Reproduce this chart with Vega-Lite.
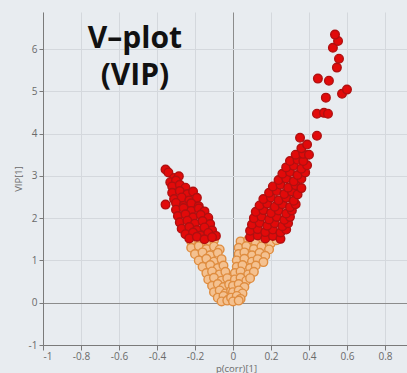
{
  "$schema": "https://vega.github.io/schema/vega-lite/v6.json",
  "autosize": "none",
  "width": 364,
  "height": 333,
  "padding": {"left": 43, "top": 12, "right": 0, "bottom": 28},
  "background": "#e8ecf0",
  "config": {"view": {"stroke": null, "fill": "#e8ecf0"}},
  "datasets": {
    "pts": [
      {"p": -0.22, "v": 1.45, "g": "lo"}, {"p": -0.18, "v": 1.49, "g": "lo"}, {"p": -0.14, "v": 1.42, "g": "lo"}, {"p": -0.10, "v": 1.48, "g": "lo"},
      {"p": -0.22, "v": 1.30, "g": "lo"}, {"p": -0.18, "v": 1.34, "g": "lo"}, {"p": -0.14, "v": 1.27, "g": "lo"}, {"p": -0.10, "v": 1.33, "g": "lo"}, {"p": -0.07, "v": 1.26, "g": "lo"},
      {"p": -0.20, "v": 1.15, "g": "lo"}, {"p": -0.16, "v": 1.19, "g": "lo"}, {"p": -0.12, "v": 1.12, "g": "lo"}, {"p": -0.08, "v": 1.18, "g": "lo"},
      {"p": -0.18, "v": 1.00, "g": "lo"}, {"p": -0.14, "v": 1.04, "g": "lo"}, {"p": -0.10, "v": 0.97, "g": "lo"}, {"p": -0.06, "v": 1.03, "g": "lo"},
      {"p": -0.16, "v": 0.85, "g": "lo"}, {"p": -0.12, "v": 0.89, "g": "lo"}, {"p": -0.08, "v": 0.82, "g": "lo"}, {"p": -0.05, "v": 0.88, "g": "lo"},
      {"p": -0.14, "v": 0.70, "g": "lo"}, {"p": -0.11, "v": 0.74, "g": "lo"}, {"p": -0.07, "v": 0.67, "g": "lo"}, {"p": -0.04, "v": 0.73, "g": "lo"},
      {"p": -0.13, "v": 0.55, "g": "lo"}, {"p": -0.10, "v": 0.59, "g": "lo"}, {"p": -0.06, "v": 0.52, "g": "lo"}, {"p": -0.03, "v": 0.58, "g": "lo"},
      {"p": -0.11, "v": 0.40, "g": "lo"}, {"p": -0.08, "v": 0.44, "g": "lo"}, {"p": -0.05, "v": 0.37, "g": "lo"}, {"p": -0.02, "v": 0.43, "g": "lo"},
      {"p": -0.10, "v": 0.25, "g": "lo"}, {"p": -0.07, "v": 0.29, "g": "lo"}, {"p": -0.04, "v": 0.22, "g": "lo"}, {"p": -0.01, "v": 0.28, "g": "lo"},
      {"p": -0.08, "v": 0.12, "g": "lo"}, {"p": -0.05, "v": 0.16, "g": "lo"}, {"p": -0.02, "v": 0.09, "g": "lo"},
      {"p": -0.06, "v": 0.03, "g": "lo"}, {"p": -0.03, "v": 0.05, "g": "lo"},
      {"p": 0.04, "v": 1.45, "g": "lo"}, {"p": 0.08, "v": 1.49, "g": "lo"}, {"p": 0.12, "v": 1.42, "g": "lo"}, {"p": 0.16, "v": 1.48, "g": "lo"}, {"p": 0.20, "v": 1.41, "g": "lo"}, {"p": 0.23, "v": 1.48, "g": "lo"},
      {"p": 0.03, "v": 1.30, "g": "lo"}, {"p": 0.07, "v": 1.34, "g": "lo"}, {"p": 0.11, "v": 1.27, "g": "lo"}, {"p": 0.15, "v": 1.33, "g": "lo"}, {"p": 0.19, "v": 1.26, "g": "lo"},
      {"p": 0.03, "v": 1.15, "g": "lo"}, {"p": 0.06, "v": 1.19, "g": "lo"}, {"p": 0.10, "v": 1.12, "g": "lo"}, {"p": 0.14, "v": 1.18, "g": "lo"}, {"p": 0.17, "v": 1.11, "g": "lo"},
      {"p": 0.02, "v": 1.00, "g": "lo"}, {"p": 0.06, "v": 1.04, "g": "lo"}, {"p": 0.10, "v": 0.97, "g": "lo"}, {"p": 0.13, "v": 1.03, "g": "lo"}, {"p": 0.16, "v": 0.96, "g": "lo"},
      {"p": 0.02, "v": 0.85, "g": "lo"}, {"p": 0.05, "v": 0.89, "g": "lo"}, {"p": 0.09, "v": 0.82, "g": "lo"}, {"p": 0.12, "v": 0.88, "g": "lo"},
      {"p": 0.01, "v": 0.70, "g": "lo"}, {"p": 0.04, "v": 0.74, "g": "lo"}, {"p": 0.08, "v": 0.67, "g": "lo"}, {"p": 0.11, "v": 0.73, "g": "lo"},
      {"p": 0.01, "v": 0.55, "g": "lo"}, {"p": 0.04, "v": 0.59, "g": "lo"}, {"p": 0.07, "v": 0.52, "g": "lo"}, {"p": 0.09, "v": 0.58, "g": "lo"},
      {"p": 0.00, "v": 0.40, "g": "lo"}, {"p": 0.03, "v": 0.44, "g": "lo"}, {"p": 0.06, "v": 0.37, "g": "lo"},
      {"p": 0.00, "v": 0.25, "g": "lo"}, {"p": 0.03, "v": 0.29, "g": "lo"}, {"p": 0.05, "v": 0.22, "g": "lo"},
      {"p": -0.01, "v": 0.12, "g": "lo"}, {"p": 0.02, "v": 0.16, "g": "lo"}, {"p": 0.04, "v": 0.09, "g": "lo"},
      {"p": 0.00, "v": 0.03, "g": "lo"}, {"p": 0.03, "v": 0.05, "g": "lo"},
      {"p": -0.355, "v": 3.15, "g": "hi"}, {"p": -0.34, "v": 3.08, "g": "hi"},
      {"p": -0.31, "v": 2.95, "g": "hi"}, {"p": -0.285, "v": 2.99, "g": "hi"},
      {"p": -0.33, "v": 2.85, "g": "hi"}, {"p": -0.30, "v": 2.89, "g": "hi"},
      {"p": -0.32, "v": 2.75, "g": "hi"}, {"p": -0.28, "v": 2.79, "g": "hi"}, {"p": -0.25, "v": 2.72, "g": "hi"},
      {"p": -0.32, "v": 2.60, "g": "hi"}, {"p": -0.28, "v": 2.64, "g": "hi"}, {"p": -0.24, "v": 2.57, "g": "hi"}, {"p": -0.21, "v": 2.63, "g": "hi"},
      {"p": -0.31, "v": 2.45, "g": "hi"}, {"p": -0.27, "v": 2.49, "g": "hi"}, {"p": -0.23, "v": 2.42, "g": "hi"}, {"p": -0.19, "v": 2.48, "g": "hi"},
      {"p": -0.355, "v": 2.32, "g": "hi"}, {"p": -0.30, "v": 2.36, "g": "hi"}, {"p": -0.26, "v": 2.29, "g": "hi"}, {"p": -0.22, "v": 2.35, "g": "hi"}, {"p": -0.18, "v": 2.28, "g": "hi"},
      {"p": -0.30, "v": 2.20, "g": "hi"}, {"p": -0.26, "v": 2.24, "g": "hi"}, {"p": -0.22, "v": 2.17, "g": "hi"}, {"p": -0.18, "v": 2.23, "g": "hi"}, {"p": -0.15, "v": 2.16, "g": "hi"},
      {"p": -0.29, "v": 2.05, "g": "hi"}, {"p": -0.25, "v": 2.09, "g": "hi"}, {"p": -0.21, "v": 2.02, "g": "hi"}, {"p": -0.17, "v": 2.08, "g": "hi"}, {"p": -0.13, "v": 2.01, "g": "hi"},
      {"p": -0.28, "v": 1.90, "g": "hi"}, {"p": -0.24, "v": 1.94, "g": "hi"}, {"p": -0.20, "v": 1.87, "g": "hi"}, {"p": -0.16, "v": 1.93, "g": "hi"}, {"p": -0.12, "v": 1.86, "g": "hi"},
      {"p": -0.27, "v": 1.75, "g": "hi"}, {"p": -0.23, "v": 1.79, "g": "hi"}, {"p": -0.19, "v": 1.72, "g": "hi"}, {"p": -0.15, "v": 1.78, "g": "hi"}, {"p": -0.11, "v": 1.71, "g": "hi"},
      {"p": -0.25, "v": 1.62, "g": "hi"}, {"p": -0.21, "v": 1.66, "g": "hi"}, {"p": -0.17, "v": 1.59, "g": "hi"}, {"p": -0.13, "v": 1.65, "g": "hi"}, {"p": -0.09, "v": 1.58, "g": "hi"},
      {"p": -0.23, "v": 1.52, "g": "hi"}, {"p": -0.19, "v": 1.56, "g": "hi"}, {"p": -0.15, "v": 1.50, "g": "hi"}, {"p": -0.11, "v": 1.55, "g": "hi"},
      {"p": 0.09, "v": 1.55, "g": "hi"}, {"p": 0.13, "v": 1.59, "g": "hi"}, {"p": 0.17, "v": 1.52, "g": "hi"}, {"p": 0.21, "v": 1.58, "g": "hi"}, {"p": 0.25, "v": 1.51, "g": "hi"},
      {"p": 0.09, "v": 1.70, "g": "hi"}, {"p": 0.13, "v": 1.74, "g": "hi"}, {"p": 0.17, "v": 1.67, "g": "hi"}, {"p": 0.21, "v": 1.73, "g": "hi"}, {"p": 0.25, "v": 1.66, "g": "hi"}, {"p": 0.28, "v": 1.73, "g": "hi"},
      {"p": 0.10, "v": 1.85, "g": "hi"}, {"p": 0.14, "v": 1.89, "g": "hi"}, {"p": 0.18, "v": 1.82, "g": "hi"}, {"p": 0.22, "v": 1.88, "g": "hi"}, {"p": 0.26, "v": 1.81, "g": "hi"}, {"p": 0.29, "v": 1.88, "g": "hi"},
      {"p": 0.11, "v": 2.00, "g": "hi"}, {"p": 0.15, "v": 2.04, "g": "hi"}, {"p": 0.19, "v": 1.97, "g": "hi"}, {"p": 0.23, "v": 2.03, "g": "hi"}, {"p": 0.27, "v": 1.96, "g": "hi"}, {"p": 0.30, "v": 2.03, "g": "hi"},
      {"p": 0.12, "v": 2.15, "g": "hi"}, {"p": 0.16, "v": 2.19, "g": "hi"}, {"p": 0.20, "v": 2.12, "g": "hi"}, {"p": 0.24, "v": 2.18, "g": "hi"}, {"p": 0.28, "v": 2.11, "g": "hi"}, {"p": 0.31, "v": 2.18, "g": "hi"},
      {"p": 0.14, "v": 2.30, "g": "hi"}, {"p": 0.18, "v": 2.34, "g": "hi"}, {"p": 0.22, "v": 2.27, "g": "hi"}, {"p": 0.26, "v": 2.33, "g": "hi"}, {"p": 0.30, "v": 2.26, "g": "hi"}, {"p": 0.33, "v": 2.33, "g": "hi"},
      {"p": 0.16, "v": 2.45, "g": "hi"}, {"p": 0.20, "v": 2.49, "g": "hi"}, {"p": 0.24, "v": 2.42, "g": "hi"}, {"p": 0.28, "v": 2.48, "g": "hi"}, {"p": 0.32, "v": 2.41, "g": "hi"},
      {"p": 0.19, "v": 2.60, "g": "hi"}, {"p": 0.23, "v": 2.64, "g": "hi"}, {"p": 0.27, "v": 2.57, "g": "hi"}, {"p": 0.31, "v": 2.63, "g": "hi"}, {"p": 0.34, "v": 2.56, "g": "hi"},
      {"p": 0.21, "v": 2.75, "g": "hi"}, {"p": 0.25, "v": 2.79, "g": "hi"}, {"p": 0.29, "v": 2.72, "g": "hi"}, {"p": 0.33, "v": 2.78, "g": "hi"}, {"p": 0.36, "v": 2.71, "g": "hi"},
      {"p": 0.24, "v": 2.90, "g": "hi"}, {"p": 0.28, "v": 2.94, "g": "hi"}, {"p": 0.32, "v": 2.87, "g": "hi"}, {"p": 0.36, "v": 2.93, "g": "hi"},
      {"p": 0.26, "v": 3.05, "g": "hi"}, {"p": 0.30, "v": 3.09, "g": "hi"}, {"p": 0.34, "v": 3.02, "g": "hi"}, {"p": 0.38, "v": 3.08, "g": "hi"},
      {"p": 0.28, "v": 3.20, "g": "hi"}, {"p": 0.32, "v": 3.24, "g": "hi"}, {"p": 0.36, "v": 3.17, "g": "hi"}, {"p": 0.39, "v": 3.25, "g": "hi"},
      {"p": 0.30, "v": 3.35, "g": "hi"}, {"p": 0.34, "v": 3.38, "g": "hi"}, {"p": 0.37, "v": 3.35, "g": "hi"},
      {"p": 0.33, "v": 3.5, "g": "hi"}, {"p": 0.37, "v": 3.52, "g": "hi"}, {"p": 0.40, "v": 3.5, "g": "hi"},
      {"p": 0.36, "v": 3.65, "g": "hi"}, {"p": 0.39, "v": 3.74, "g": "hi"},
      {"p": 0.353, "v": 3.9, "g": "hi"}, {"p": 0.442, "v": 3.95, "g": "hi"},
      {"p": 0.442, "v": 4.47, "g": "hi"}, {"p": 0.479, "v": 4.49, "g": "hi"}, {"p": 0.50, "v": 4.47, "g": "hi"},
      {"p": 0.489, "v": 4.85, "g": "hi"}, {"p": 0.574, "v": 4.94, "g": "hi"}, {"p": 0.60, "v": 5.04, "g": "hi"},
      {"p": 0.447, "v": 5.30, "g": "hi"}, {"p": 0.505, "v": 5.25, "g": "hi"},
      {"p": 0.547, "v": 5.56, "g": "hi"}, {"p": 0.558, "v": 5.77, "g": "hi"},
      {"p": 0.526, "v": 6.03, "g": "hi"}, {"p": 0.553, "v": 6.19, "g": "hi"}, {"p": 0.537, "v": 6.34, "g": "hi"}
    ],
    "labels": [
      {"t": "V–plot", "p": -0.516, "v": 6.03},
      {"t": "(VIP)", "p": -0.516, "v": 5.15}
    ]
  },
  "layer": [
    {
      "data": {"name": "pts"},
      "mark": {"type": "circle", "size": 74, "strokeWidth": 1.4, "opacity": 1},
      "encoding": {
        "x": {
          "field": "p", "type": "quantitative",
          "scale": {"domain": [-1, 0.916], "nice": false, "zero": false},
          "axis": {
            "values": [-1, -0.9, -0.8, -0.7, -0.6, -0.5, -0.4, -0.3, -0.2, -0.1, 0, 0.1, 0.2, 0.3, 0.4, 0.5, 0.6, 0.7, 0.8, 0.9],
            "format": ".1~f",
            "labelExpr": "abs(datum.value*5-round(datum.value*5))<0.001 ? replace(datum.label,'\u2212','-') : ''",
            "grid": true,
            "gridOpacity": {"condition": {"test": "abs(datum.value*5-round(datum.value*5))<0.001", "value": 1}, "value": 0},
            "gridColor": {"condition": {"test": "abs(datum.value)<0.001", "value": "#8c8c8c"}, "value": "#d4d8dd"},
            "tickSize": {"condition": {"test": "abs(datum.value*5-round(datum.value*5))<0.001", "value": 5}, "value": 3},
            "domainColor": "#7a7a7a", "tickColor": "#7a7a7a",
            "labelColor": "#6a6a6a", "labelFont": "Open Sans", "labelFontSize": 10, "labelPadding": 1,
            "title": "p(corr)[1]", "titleFont": "Open Sans", "titleFontSize": 9.5, "titleFontWeight": "normal", "titleColor": "#6a6a6a",
            "titlePadding": 2, "titleX": 193
          }
        },
        "y": {
          "field": "v", "type": "quantitative",
          "scale": {"domain": [-1, 6.875], "nice": false, "zero": false},
          "axis": {
            "values": [-1, -0.5, 0, 0.5, 1, 1.5, 2, 2.5, 3, 3.5, 4, 4.5, 5, 5.5, 6, 6.5],
            "format": "~f",
            "labelExpr": "datum.value==round(datum.value) ? replace(datum.label,'\u2212','-') : ''",
            "grid": true,
            "gridOpacity": {"condition": {"test": "datum.value==round(datum.value)", "value": 1}, "value": 0},
            "gridColor": {"condition": {"test": "datum.value==0", "value": "#8c8c8c"}, "value": "#d4d8dd"},
            "tickSize": {"condition": {"test": "datum.value==round(datum.value)", "value": 4}, "value": 2},
            "domainColor": "#7a7a7a", "tickColor": "#7a7a7a",
            "labelColor": "#6a6a6a", "labelFont": "Open Sans", "labelFontSize": 10, "labelPadding": 2,
            "title": "VIP[1]", "titleFont": "Open Sans", "titleFontSize": 9.5, "titleFontWeight": "normal", "titleColor": "#6a6a6a",
            "titlePadding": 5
          }
        },
        "fill": {"field": "g", "type": "nominal", "scale": {"domain": ["lo", "hi"], "range": ["#f4c190", "#e20a0a"]}, "legend": null},
        "stroke": {"field": "g", "type": "nominal", "scale": {"domain": ["lo", "hi"], "range": ["#df8d40", "#b01010"]}, "legend": null}
      }
    },
    {
      "mark": {"type": "rule", "color": "#000000", "strokeWidth": 3},
      "encoding": {"y": {"datum": 1}}
    },
    {
      "data": {"name": "labels"},
      "mark": {"type": "text", "font": "Open Sans", "fontWeight": "bold", "fontSize": 30, "color": "#111111", "align": "center", "baseline": "alphabetic"},
      "encoding": {
        "x": {"field": "p", "type": "quantitative"},
        "y": {"field": "v", "type": "quantitative"},
        "text": {"field": "t"}
      }
    }
  ]
}
